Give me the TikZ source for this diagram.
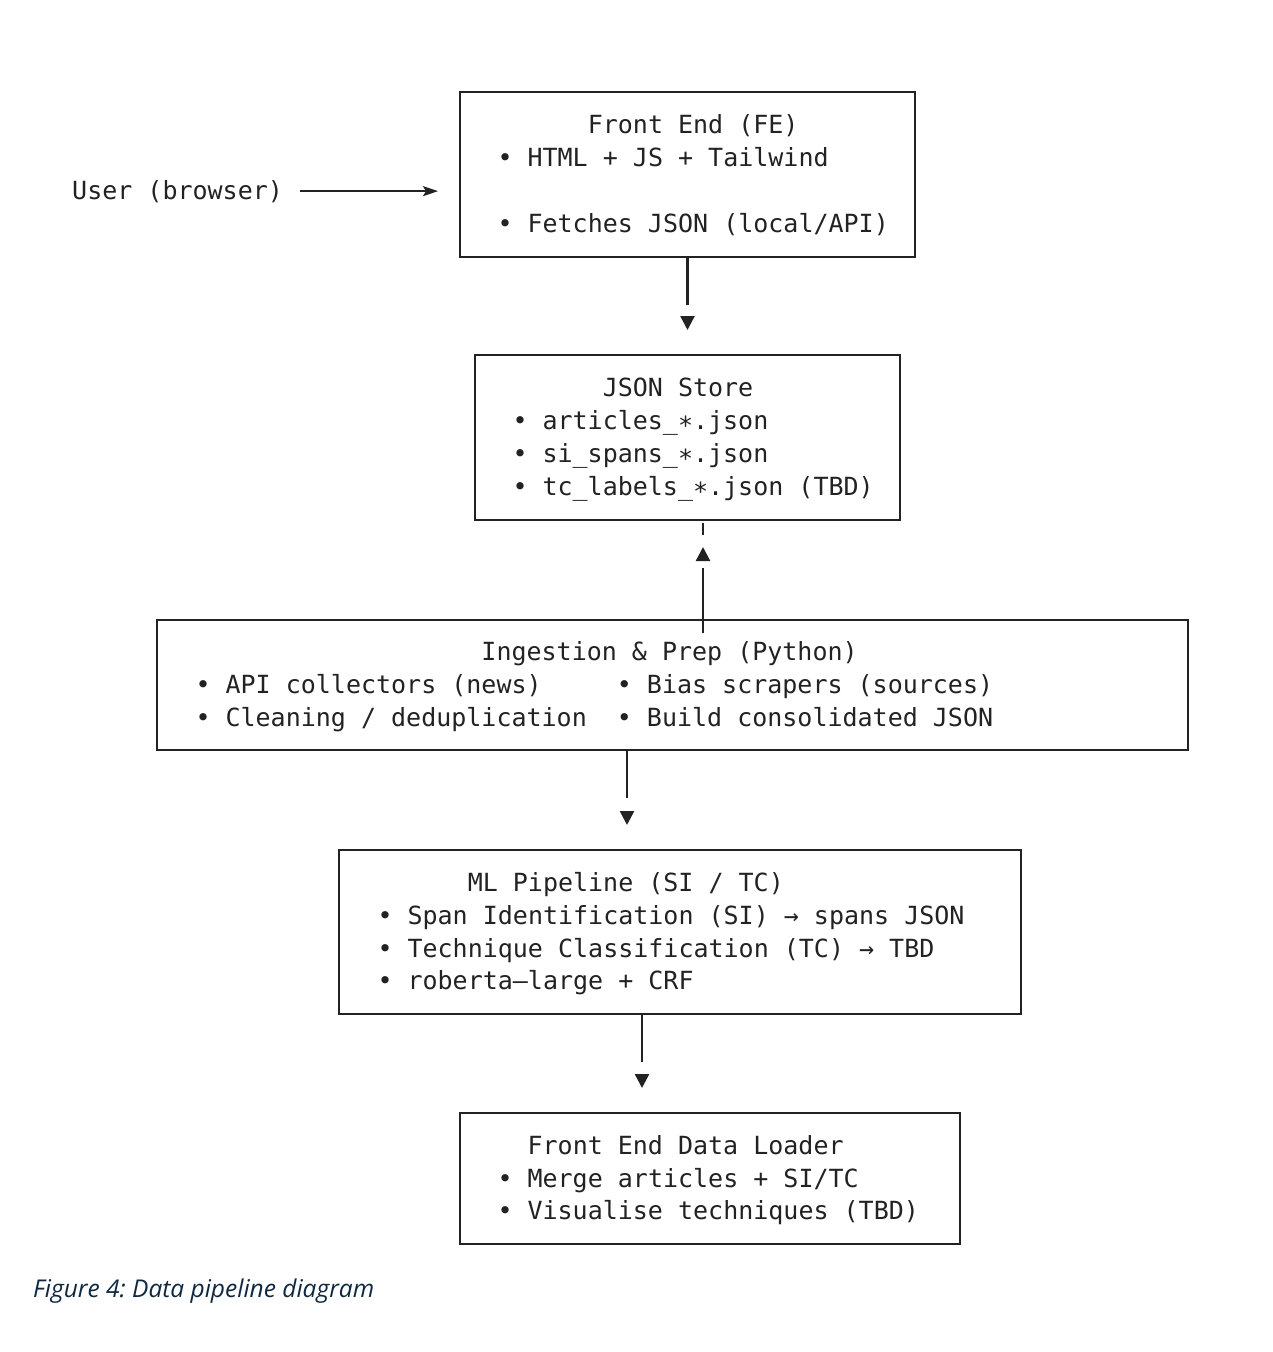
\documentclass[tikz,border=0pt]{standalone}
\usepackage{fontspec}
\newfontfamily\mono{DejaVu Sans Mono}
\newfontfamily\capfont{Open Sans}
\usetikzlibrary{arrows.meta}
\newlength\cw \setlength\cw{15.05pt}
\newcommand\col[1]{\hspace*{#1\cw}}
\newcommand\bl[1]{\mbox{\spaceskip=\cw\relax\xspaceskip=\cw\relax\rule[-7.8pt]{0pt}{32.8pt}#1}}
\definecolor{ink}{HTML}{222222}
\definecolor{capblue}{HTML}{0E2841}
\begin{document}
\begin{tikzpicture}[x=1pt,y=-1pt,
  box/.style={draw=ink, line width=2.4pt, rectangle, anchor=north west, outer sep=0pt,
    inner ysep=0pt, align=left, text=ink, font=\mono\fontsize{25}{32.8}\selectfont},
  flow/.style={draw=ink, line width=2.4pt, dash pattern=on 48pt off 300pt,
    -{Triangle[length=14pt,width=14pt]}, shorten >=25pt},
]
\useasboundingbox (0,0) rectangle (1272,1352);

\node[box, minimum width=455pt, minimum height=165pt, inner xsep=37.5pt, text width=380pt]
  (fe) at (460,92) {\bl{\col{6}Front End (FE)}\\\bl{• HTML + JS + Tailwind}\\\bl{}\\\bl{• Fetches JSON (local/API)}};

\node[box, minimum width=425pt, minimum height=165pt, inner xsep=37.5pt, text width=350pt]
  (js) at (475,355) {\bl{\col{6}JSON Store}\\\bl{• articles\_∗.json}\\\bl{• si\_spans\_∗.json}\\\bl{• tc\_labels\_∗.json (TBD)}};

\node[box, minimum width=1031pt, minimum height=130pt, inner xsep=38.5pt, text width=954pt]
  (ing) at (157,620) {\bl{\col{19}Ingestion \& Prep (Python)}\\\bl{\makebox[28\cw][l]{• API collectors (news)}• Bias scrapers (sources)}\\\bl{\makebox[28\cw][l]{• Cleaning / deduplication}• Build consolidated JSON}};

\node[box, minimum width=682pt, minimum height=164pt, inner xsep=38.5pt, text width=605pt]
  (ml) at (339,850) {\bl{\col{6}ML Pipeline (SI / TC)}\\\bl{• Span Identification (SI) → spans JSON}\\\bl{• Technique Classification (TC) → TBD}\\\bl{• roberta–large + CRF}};

\node[box, minimum width=500pt, minimum height=131pt, inner xsep=37.5pt, text width=425pt]
  (fdl) at (460,1113) {\bl{\col{2}Front End Data Loader}\\\bl{• Merge articles + SI/TC}\\\bl{• Visualise techniques (TBD)}};

\node[anchor=base west, inner sep=0pt, text=ink, font=\mono\fontsize{25}{32.8}\selectfont]
  (user) at (72,199) {User (browser)};

\node[anchor=base west, inner sep=0pt, text=capblue, font=\capfont\itshape\fontsize{24.5}{28}\selectfont]
  (cap) at (33,1297) {\frenchspacing Figure 4: Data pipeline diagram};

% connectors
\draw[draw=ink, line width=2pt, -{Stealth[length=15pt,width=10pt,inset=3pt]}, shorten <=17pt, shorten >=22pt]
  (user.east) -- (user.east -| fe.west);
\draw[flow] (fe.south) -- (js.north);
\draw[flow, dash pattern=on 65pt off 300pt, shorten >=27pt]
  ([shift={(30.5,13)}]ing.north) -- ([shift={(15.5,0)}]js.south);
\draw[draw=ink, line width=2.4pt] ([shift={(15.5,3)}]js.south) -- ([shift={(15.5,15)}]js.south);
\draw[flow] ([shift={(-45.5,0)}]ing.south) -- ([shift={(-53,0)}]ml.north);
\draw[flow] ([shift={(-38,0)}]ml.south) -- ([shift={(-68,0)}]fdl.north);
\end{tikzpicture}
\end{document}
